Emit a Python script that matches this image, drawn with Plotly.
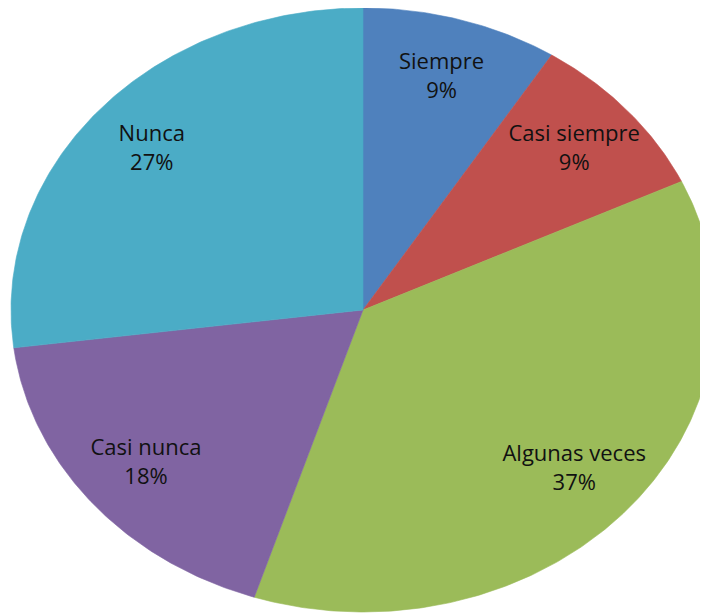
import numpy as np
import plotly.graph_objects as go

# ---- data ----
categories = ["Siempre", "Casi siempre", "Algunas veces", "Casi nunca", "Nunca"]
values = [9, 9, 37, 18, 27]
colors = ["#4F81BD", "#C0504D", "#9BBB59", "#8064A2", "#4BACC6"]

# ---- layout geometry (pixels, figure coordinates; page body adds 8px margin) ----
W, H = 700, 607
CX, CY = 355, 302      # centre of the (elliptical) pie
RX, RY = 352, 302      # horizontal / vertical radius
LABEL_R = 0.80         # label distance along bisector (fraction of radius)

total = float(sum(values))
fig = go.Figure()

start = 0.0
label_x, label_y, label_txt = [], [], []
for cat, val, col in zip(categories, values, colors):
    frac = val / total
    a0, a1 = start * 2 * np.pi, (start + frac) * 2 * np.pi
    t = np.linspace(a0, a1, max(int(frac * 600), 24))
    xs = np.concatenate([[0.0], np.sin(t), [0.0]])
    ys = np.concatenate([[0.0], np.cos(t), [0.0]])
    pct = f"{round(100 * frac)}%"
    fig.add_trace(go.Scatter(
        x=xs, y=ys, mode="lines", fill="toself", fillcolor=col,
        line=dict(color=col, width=0.6), hoverinfo="text",
        text=f"{cat}: {pct}", showlegend=False,
    ))
    mid = (a0 + a1) / 2
    label_x.append(LABEL_R * np.sin(mid))
    label_y.append(LABEL_R * np.cos(mid))
    label_txt.append(f"{cat}<br>{pct}")
    start += frac

fig.add_trace(go.Scatter(
    x=label_x, y=label_y, mode="text", text=label_txt,
    textposition="middle center",
    textfont=dict(family="Open Sans", size=22, color="#111111"),
    hoverinfo="skip", showlegend=False,
))

fig.update_layout(
    width=W, height=H,
    margin=dict(l=0, r=0, t=0, b=0),
    paper_bgcolor="white", plot_bgcolor="white",
    xaxis=dict(visible=False, range=[-CX / RX, (W - CX) / RX]),
    yaxis=dict(visible=False, range=[-(H - CY) / RY, CY / RY]),
)

fig.write_html("out.html")
